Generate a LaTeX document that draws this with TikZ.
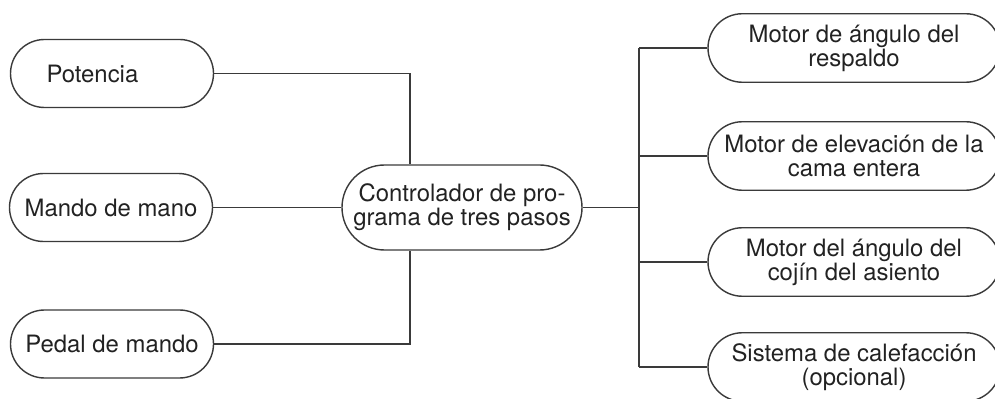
\documentclass[tikz,border=0pt]{standalone}
\usepackage{fontspec}
\setmainfont{TeX Gyre Heros}
\usepackage{xcolor}
\usepackage{tikz}
\usetikzlibrary{shapes.misc}
\definecolor{linegray}{HTML}{3A3A3A}
\definecolor{textgray}{HTML}{222222}
\tikzset{
	pill/.style={rounded rectangle,draw=linegray,line width=0.8pt,inner sep=0pt,text=textgray,align=center,font=\fontsize{13.6}{13.6}\selectfont},
	leftpill/.style={pill,minimum width=4.06cm,minimum height=1.36cm},
	rightpill/.style={pill,minimum width=5.84cm,minimum height=1.37cm},
	wire/.style={draw=linegray,line width=0.8pt}
}
\begin{document}
\begin{tikzpicture}
	\useasboundingbox (0,0) rectangle (19.9,-7.98);
	\clip (0,0) rectangle (19.9,-7.98);
	\node[leftpill,text width=2.62cm,align=left] (pot) at (2.24,-1.47) {Potencia};
	\node[leftpill] (mando) at (2.22,-4.15) {Mando de mano};
	\node[leftpill] (pedal) at (2.24,-6.88) {Pedal de mando};
	\node[pill,minimum width=4.8cm,minimum height=1.7cm] (ctrl) at (9.24,-4.15) {Controlador de pro-\\grama de tres pasos};
	\node[rightpill] (resp) at (17.08,-0.96) {Motor de ángulo del\\respaldo};
	\node[rightpill] (cama) at (17.08,-3.12) {Motor de elevación de la\\cama entera};
	\node[rightpill] (cojin) at (17.08,-5.24) {Motor del ángulo del\\cojín del asiento};
	\node[rightpill] (calef) at (17.08,-7.34) {Sistema de calefacción\\(opcional)};
	\coordinate (bus) at (12.78,-4.15);
	\draw[wire] (pot.east) -| ([xshift=-1.04cm]ctrl.north);
	\draw[wire] (mando.east) -- (ctrl.west);
	\draw[wire] (pedal.east) -| ([xshift=-1.04cm]ctrl.south);
	\draw[wire] (ctrl.east) -- (bus);
	\draw[wire] (resp.west -| bus) -- (calef.west -| bus);
	\draw[wire] (resp.west) -- (resp.west -| bus);
	\draw[wire] (cama.west) -- (cama.west -| bus);
	\draw[wire] (cojin.west) -- (cojin.west -| bus);
	\draw[wire] (calef.west) -- (calef.west -| bus);
\end{tikzpicture}
\end{document}
